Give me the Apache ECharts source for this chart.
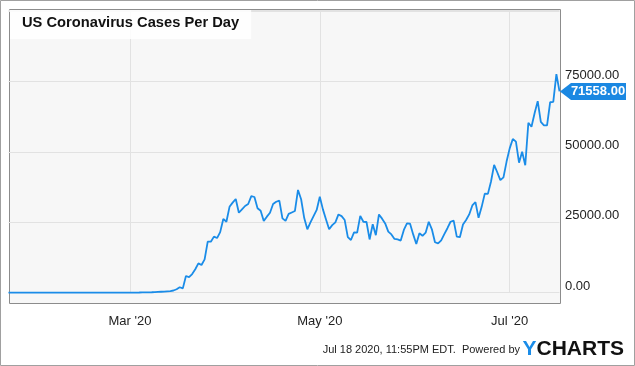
<!DOCTYPE html>
<html>
<head>
<meta charset="utf-8">
<script src="https://cdn.jsdelivr.net/npm/echarts@6/dist/echarts.min.js"></script>
<style>
  html, body { margin: 0; padding: 0; background: #ffffff; }
  #chart { width: 635px; height: 366px; }
</style>
</head>
<body>
<div id="chart"></div>
<script>
// ---- data ----
const chartTitle = "US Coronavirus Cases Per Day";
const startDate = "2020-01-22";           // first daily point
const casesPerDay = [
  // Jan 22 - Feb 29
  0,0,1,0,2,0,0,0,0,1,2,0,3,0,0,0,1,0,0,0,0,1,0,0,0,0,0,0,0,0,0,20,0,0,1,0,0,3,4,
  // Mar 1 - Mar 18
  10,20,25,30,70,70,110,120,150,250,300,350,450,550,750,1200,1900,1500,
  // Mar 19 - Mar 31
  5900,5500,6600,8300,10400,9800,11800,18100,18100,19900,19400,21500,26200,
  // Apr 1 - Apr 26
  25200,30500,32000,33300,28400,29600,30800,31500,34300,34000,30000,29100,25500,
  27000,28400,31500,32300,32700,26400,25500,28000,28500,29000,36500,33200,26500,
  // Apr 27 - May 22
  22500,25000,27200,29400,34100,29600,26000,22500,24000,25000,27800,27200,25800,
  19700,18700,21400,21300,27300,25200,25100,18900,24300,20400,27800,26300,24600,
  // May 23 - Jun 15
  21700,20700,19100,18900,18500,22300,24600,24500,20700,17300,21100,20200,
  21300,25200,22500,17900,17500,18600,20800,22900,25200,25600,19900,19700,
  // Jun 16 - Jul 17
  24200,25800,27800,31000,32200,26600,30500,35200,35100,39500,45400,42800,
  40000,41000,46600,51300,54600,53700,46200,50100,45300,60400,59000,63800,
  68100,60700,59500,59500,67700,67800,77700,71558
];
const xTickDates = ["2020-03-01", "2020-05-01", "2020-07-01"];
const xTickLabels = ["Mar '20", "May '20", "Jul '20"];
const yTickValues = [0, 25000, 50000, 75000];
const footerText = "Jul 18 2020, 11:55PM EDT.  Powered by";

// ---- build category dates (calendar days from startDate) ----
function pad(n) { return n < 10 ? "0" + n : "" + n; }
const dates = [];
(function () {
  const p = startDate.split("-").map(Number);
  const d = new Date(Date.UTC(p[0], p[1] - 1, p[2]));
  for (let i = 0; i < casesPerDay.length; i++) {
    dates.push(d.getUTCFullYear() + "-" + pad(d.getUTCMonth() + 1) + "-" + pad(d.getUTCDate()));
    d.setUTCDate(d.getUTCDate() + 1);
  }
})();
const lastIdx = casesPerDay.length - 1;

const FONT = '"Liberation Sans", Arial, Helvetica, sans-serif';
const BLUE = "#1a8ce8";
const isTick = (idx, val) => xTickDates.indexOf(val) >= 0;

const chart = echarts.init(document.getElementById("chart"), null, { renderer: "canvas" });
chart.setOption({
  animation: false,
  backgroundColor: "#ffffff",
  textStyle: { fontFamily: FONT },
  title: {
    text: chartTitle,
    left: 10, top: 10,
    padding: [5, 12, 9, 12],
    backgroundColor: "rgba(255,255,255,0.85)",
    textStyle: { fontFamily: FONT, fontSize: 14.7, fontWeight: "bold", color: "#111111" }
  },
  graphic: [
    { type: "rect", z: -10, silent: true,
      shape: { x: 0.5, y: 0.5, width: 634, height: 365 },
      style: { fill: "#ffffff", stroke: "#a0a0a0", lineWidth: 1 } },
    { type: "rect", z: -9, silent: true,
      shape: { x: 9.5, y: 9.5, width: 551, height: 294 },
      style: { fill: "#f7f7f7", stroke: "#8c8c8c", lineWidth: 1 } },
    { type: "text", silent: true, x: 520, y: 350,
      style: { text: footerText, font: '11px ' + FONT, fill: "#222222", align: "right", verticalAlign: "middle" } },
    { type: "text", silent: true, x: 522.5, y: 349,
      style: { text: "{y|Y}{c|CHARTS}", align: "left", verticalAlign: "middle",
        rich: {
          y: { fontFamily: FONT, fontSize: 21, fontWeight: "bold", fill: "#1a8ce8", color: "#1a8ce8" },
          c: { fontFamily: FONT, fontSize: 21, fontWeight: "bold", fill: "#111111", color: "#111111" }
        } } }
  ],
  grid: { left: 8.5, right: 75.5, top: 10, bottom: 73.4, containLabel: false },
  xAxis: {
    type: "category",
    data: dates,
    boundaryGap: false,
    axisLine: { show: false },
    axisTick: { show: false },
    axisLabel: {
      interval: isTick,
      margin: 22,
      fontFamily: FONT, fontSize: 13, color: "#222222",
      formatter: (val) => { const i = xTickDates.indexOf(val); return i >= 0 ? xTickLabels[i] : ""; }
    },
    splitLine: { show: true, interval: isTick, lineStyle: { color: "#e2e2e2", width: 1 } }
  },
  yAxis: {
    type: "value",
    position: "right",
    min: 0, max: 100500, interval: 25000,
    axisLine: { show: false },
    axisTick: { show: false },
    splitLine: { show: true, lineStyle: { color: "#e2e2e2", width: 1 } },
    axisLabel: {
      showMaxLabel: false,
      margin: 5.5,
      verticalAlign: "bottom",
      lineHeight: 13,
      fontFamily: FONT, fontSize: 13, color: "#222222",
      formatter: (v) => yTickValues.indexOf(v) >= 0 ? v.toFixed(2) : ""
    }
  },
  series: [{
    type: "line",
    data: casesPerDay,
    showSymbol: false,
    symbol: "none",
    lineStyle: { color: BLUE, width: 1.8 },
    itemStyle: { color: BLUE },
    clip: false,
    markPoint: {
      silent: true,
      symbol: "path://M0,8.5L11,0L66,0L66,17L11,17Z",
      symbolSize: [66, 17],
      symbolOffset: [33.5, 0],
      itemStyle: { color: "#1b88e2" },
      label: {
        show: true, position: "inside", offset: [5, 0],
        color: "#ffffff", fontFamily: FONT, fontSize: 13, fontWeight: "bold",
        formatter: (p) => Number(p.value).toFixed(2)
      },
      data: [{ coord: [dates[lastIdx], casesPerDay[lastIdx]], value: casesPerDay[lastIdx] }]
    }
  }]
});
</script>
</body>
</html>
